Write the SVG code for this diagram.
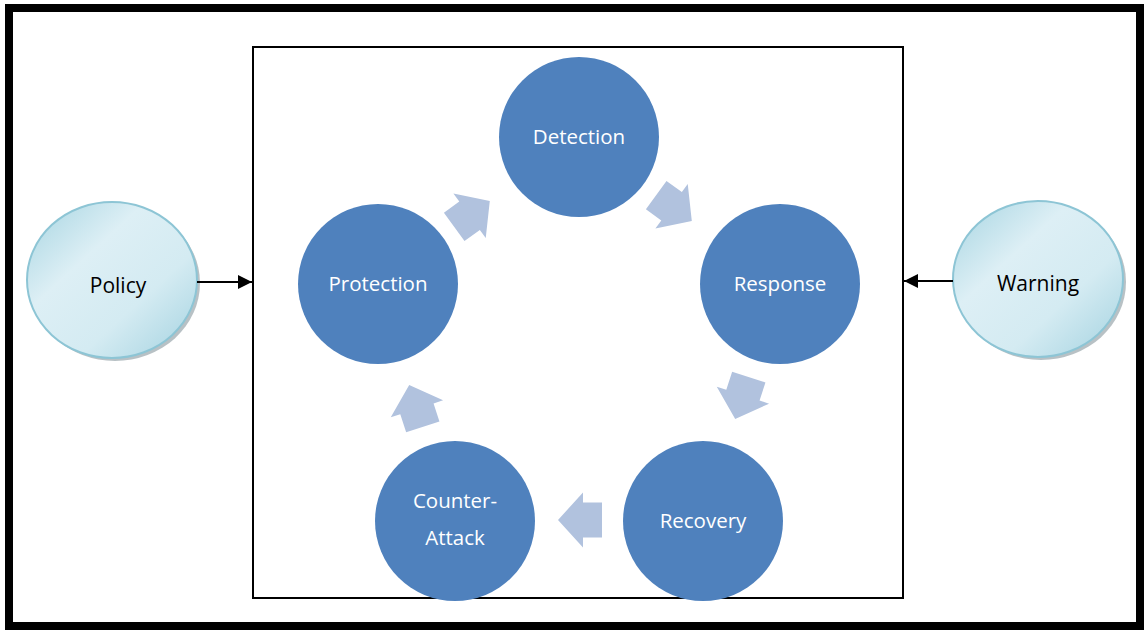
<svg xmlns="http://www.w3.org/2000/svg" width="1144" height="630" viewBox="0 0 1144 630">
<style>
.main{fill:#4F81BD}
.lbl{font-family:"Open Sans","Liberation Sans",sans-serif;font-size:20.5px;fill:#fff;text-anchor:middle}
.blk{font-family:"Open Sans","Liberation Sans",sans-serif;font-size:21px;fill:#000;text-anchor:middle}
.bar{fill:#B1C2DE}
.ext{fill:url(#g);stroke:#8DC5D5;stroke-width:2}
.shd{fill:#9AA6AD;opacity:0.7}
.con{stroke:#000;stroke-width:2;fill:none}
</style>
<defs>
<linearGradient id="g" x1="0" y1="0" x2="1" y2="1">
<stop offset="0" stop-color="#A5D4E1"/>
<stop offset="0.35" stop-color="#DDEFF5"/>
<stop offset="0.65" stop-color="#D4EBF2"/>
<stop offset="1" stop-color="#A3D2E0"/>
</linearGradient>
<marker id="ah" viewBox="0 0 10 10" refX="10" refY="5" markerWidth="7" markerHeight="7" orient="auto" markerUnits="strokeWidth">
<path d="M0,0 L10,5 L0,10 z" fill="#000"/>
</marker>
<path id="arr" d="M-22,-17.5 L-3,-17.5 L-3,-27.5 L22,0 L-3,27.5 L-3,17.5 L-22,17.5 z"/>
</defs>
<rect x="9" y="8" width="1131" height="618" fill="#fff" stroke="#000" stroke-width="8"/>
<rect x="253" y="47" width="650" height="551" fill="none" stroke="#000" stroke-width="2"/>
<g id="cycle-arrows">
<use href="#arr" class="bar" transform="translate(472,214) rotate(-36)"/>
<use href="#arr" class="bar" transform="translate(674,208) rotate(36)"/>
<use href="#arr" class="bar" transform="translate(742,398) rotate(108)"/>
<use href="#arr" class="bar" transform="translate(580,520) rotate(180)"/>
<use href="#arr" class="bar" transform="translate(416,406) rotate(252)"/>
</g>
<g id="detection"><circle class="main" cx="579" cy="137" r="80"/><text class="lbl" x="579" y="144">Detection</text></g>
<g id="response"><circle class="main" cx="780" cy="284" r="80"/><text class="lbl" x="780" y="291">Response</text></g>
<g id="recovery"><circle class="main" cx="703" cy="521" r="80"/><text class="lbl" x="703" y="528">Recovery</text></g>
<g id="counter-attack"><circle class="main" cx="455" cy="521" r="80"/><text class="lbl" x="455" y="508">Counter-</text><text class="lbl" x="455" y="545">Attack</text></g>
<g id="protection"><circle class="main" cx="378" cy="284" r="80"/><text class="lbl" x="378" y="291">Protection</text></g>
<g id="policy"><ellipse class="shd" cx="115" cy="283" rx="85" ry="78"/><ellipse class="ext" cx="112" cy="280" rx="85" ry="78"/><text class="blk" x="118" y="293">Policy</text></g>
<g id="warning"><ellipse class="shd" cx="1041" cy="282" rx="85" ry="78"/><ellipse class="ext" cx="1038" cy="279" rx="85" ry="78"/><text class="blk" x="1038" y="291">Warning</text></g>
<g id="connectors">
<line class="con" x1="197" y1="282" x2="252" y2="282" marker-end="url(#ah)"/>
<line class="con" x1="953" y1="281" x2="904" y2="281" marker-end="url(#ah)"/>
</g>
</svg>
